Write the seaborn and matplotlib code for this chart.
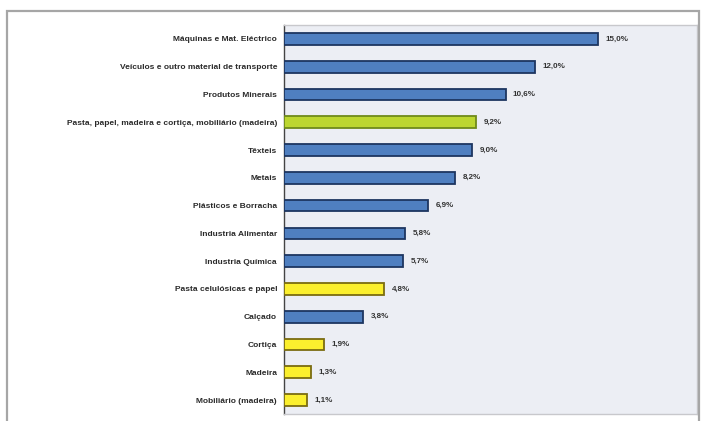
import matplotlib
matplotlib.use("Agg")
import matplotlib.pyplot as plt
from matplotlib.patches import Rectangle
from matplotlib.ticker import FixedLocator
import seaborn as sns
import pandas as pd

# Sectors and their share of exports (%)
sectors = [
    "Máquinas e Mat. Eléctrico",
    "Veículos e outro material de transporte",
    "Produtos Minerais",
    "Pasta, papel, madeira e cortiça, mobiliário (madeira)",
    "Têxteis",
    "Metais",
    "Plásticos e Borracha",
    "Industria Alimentar",
    "Industria Química",
    "Pasta celulósicas e papel",
    "Calçado",
    "Cortiça",
    "Madeira",
    "Mobiliário (madeira)",
]
shares = [15.0, 12.0, 10.6, 9.2, 9.0, 8.2, 6.9, 5.8, 5.7, 4.8, 3.8, 1.9, 1.3, 1.1]
groups = ["outro", "outro", "outro", "fileira", "outro", "outro", "outro",
          "outro", "outro", "sub", "outro", "sub", "sub", "sub"]

fill = {"outro": "#4f7fc0", "fileira": "#bcd630", "sub": "#fbef2e"}
edge = {"outro": "#1d3560", "fileira": "#6f8a1a", "sub": "#7a6c10"}

df = pd.DataFrame({"sector": sectors, "share": shares, "group": groups})

sns.set_style("white")
plt.rcParams["font.family"] = ["Liberation Sans", "DejaVu Sans"]

fig = plt.figure(figsize=(7.03, 4.21), dpi=100)
fig.patch.set_facecolor("white")

# Outer chart frame
fig.patches.append(Rectangle((7 / 703, -0.05), 692 / 703, 1.05 - 11 / 421,
                             transform=fig.transFigure, fill=False,
                             edgecolor="#a6a6a6", linewidth=1.6, zorder=0))

ax = fig.add_axes([284 / 703, 1 - 414 / 421, (697 - 284) / 703, (414 - 25) / 421])
ax.set_facecolor("#eceef4")

sns.barplot(data=df, y="sector", x="share", hue="sector",
            palette={s: fill[g] for s, g in zip(sectors, groups)},
            saturation=1, orient="h", width=0.42, legend=False, ax=ax, zorder=3)

for patch, g in zip(ax.patches, groups):
    patch.set_edgecolor(edge[g])
    patch.set_linewidth(1.3)

for i, v in enumerate(shares):
    ax.text(v + 0.35, i, f"{v:.1f}%".replace(".", ","), va="center", ha="left",
            fontsize=5.8, fontweight="bold", color="#333333")

ax.set_xlim(0, 19.75)
ax.set_ylim(len(sectors) - 0.5, -0.5)
ax.set_xlabel("")
ax.set_ylabel("")
ax.set_xticks([])
ax.tick_params(axis="y", which="major", length=0, pad=5,
               labelsize=6, labelcolor="#2a2a2a")
for lbl in ax.get_yticklabels():
    lbl.set_fontweight("bold")
ax.yaxis.set_minor_locator(FixedLocator([i + 0.5 for i in range(-1, len(sectors))]))
ax.tick_params(axis="y", which="minor", length=3, width=0.8, color="#555555", direction="out")

for side in ["top", "right", "bottom"]:
    ax.spines[side].set_color("#c8c8cc")
    ax.spines[side].set_linewidth(1.0)
ax.spines["left"].set_color("#444444")
ax.spines["left"].set_linewidth(1.0)

fig.savefig("out.png", dpi=100)
